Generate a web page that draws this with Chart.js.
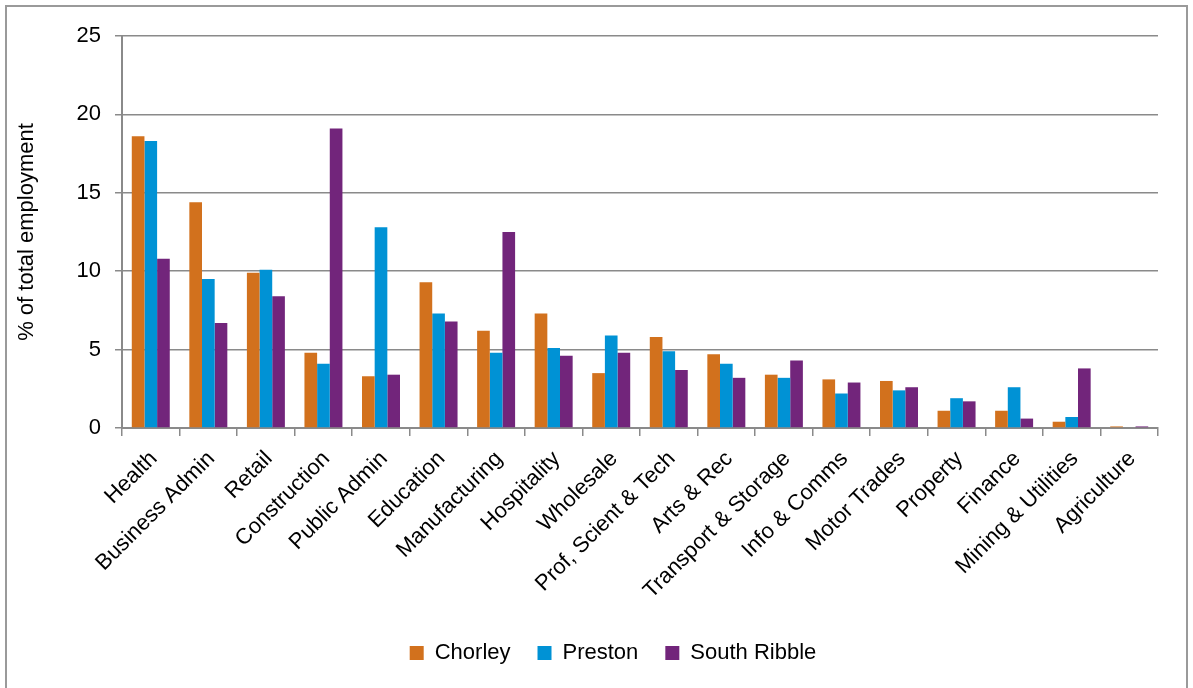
<!DOCTYPE html>
<html lang="en">
<head>
<meta charset="UTF-8">
<title>Employment by sector</title>
<script src="https://cdn.jsdelivr.net/npm/chart.js"></script>
<style>
  body { margin: 0; background: #fff; }
</style>
</head>
<body>
<canvas id="sectorChart" width="1193" height="688"></canvas>
<script>
// sectors, ordered as in the original chart
const sectors = ['Health', 'Business Admin', 'Retail', 'Construction', 'Public Admin', 'Education',
  'Manufacturing', 'Hospitality', 'Wholesale', 'Prof, Scient & Tech', 'Arts & Rec',
  'Transport & Storage', 'Info & Comms', 'Motor Trades', 'Property', 'Finance',
  'Mining & Utilities', 'Agriculture'];

// % of total employment
const chorley     = [18.6, 14.4, 9.9, 4.8, 3.3, 9.3, 6.2, 7.3, 3.5, 5.8, 4.7, 3.4, 3.1, 3.0, 1.1, 1.1, 0.4, 0.1];
const preston     = [18.3, 9.5, 10.1, 4.1, 12.8, 7.3, 4.8, 5.1, 5.9, 4.9, 4.1, 3.2, 2.2, 2.4, 1.9, 2.6, 0.7, 0.0];
const southRibble = [10.8, 6.7, 8.4, 19.1, 3.4, 6.8, 12.5, 4.6, 4.8, 3.7, 3.2, 4.3, 2.9, 2.6, 1.7, 0.6, 3.8, 0.1];

const yMin = 0, yMax = 25, yStep = 5;

const gridGrey = '#8a8a8a';
const font = '"Liberation Sans", Arial, sans-serif';

// white page with the thin grey frame round it
const frame = {
    id: 'frame',
    beforeDraw(chart) {
        const ctx = chart.ctx;
        ctx.save();
        ctx.fillStyle = '#fff';
        ctx.fillRect(0, 0, chart.width, chart.height);
        ctx.strokeStyle = '#9a9a9a';
        ctx.lineWidth = 2;
        ctx.strokeRect(6, 6, chart.width - 12, chart.height + 20);
        ctx.restore();
    },
    afterLayout(chart) {
        // legend sits a little right of centre in the original
        chart.legend.left += 34;
        chart.legend.right += 34;
    }
};

new Chart(document.getElementById('sectorChart'), {
    type: 'bar',
    data: {
        labels: sectors,
        datasets: [
            { label: 'Chorley', data: chorley, backgroundColor: '#d2711d' },
            { label: 'Preston', data: preston, backgroundColor: '#0092d5' },
            { label: 'South Ribble', data: southRibble, backgroundColor: '#72257b' }
        ]
    },
    options: {
        responsive: false,
        animation: false,
        layout: { padding: { top: 36, left: 0, right: 35, bottom: 14 } },
        datasets: { bar: { categoryPercentage: 0.66, barPercentage: 1, borderWidth: 0 } },
        plugins: {
            tooltip: { enabled: false },
            legend: {
                position: 'bottom',
                labels: {
                    boxWidth: 14,
                    boxHeight: 14,
                    padding: 27,
                    color: '#000',
                    font: { family: font, size: 22 }
                }
            }
        },
        scales: {
            x: {
                grid: { drawOnChartArea: false, offset: true, tickLength: 8, color: gridGrey, lineWidth: 1.5 },
                border: { color: gridGrey, width: 2 },
                ticks: {
                    autoSkip: false, maxRotation: 45, minRotation: 45,
                    color: '#000', padding: 10, labelOffset: 3,
                    font: { family: font, size: 22 }
                },
                afterFit(scale) { scale.height = 187; }
            },
            y: {
                min: yMin, max: yMax,
                ticks: { stepSize: yStep, color: '#000', padding: 14, font: { family: font, size: 22 } },
                grid: { color: gridGrey, lineWidth: 1.5, tickLength: 7 },
                border: { color: gridGrey, width: 2 },
                title: {
                    display: true,
                    text: '% of total employment',
                    color: '#000',
                    padding: { top: 14, bottom: 0 },
                    font: { family: font, size: 22 }
                },
                afterFit(scale) { scale.width = 122; }
            }
        }
    },
    plugins: [frame]
});
</script>
</body>
</html>
